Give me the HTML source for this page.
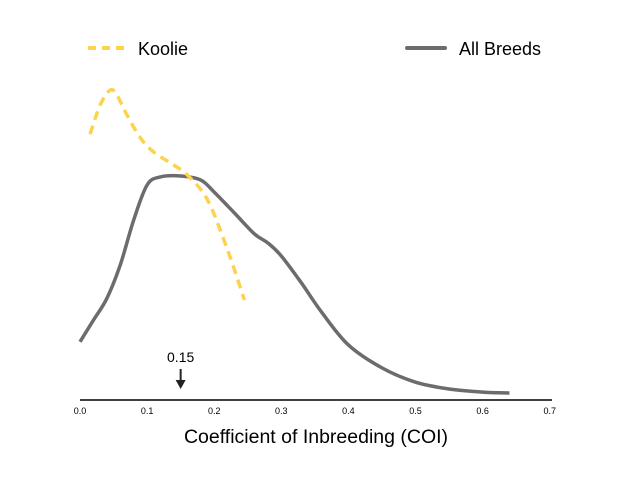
<!DOCTYPE html>
<html><head><meta charset="utf-8"><style>
html,body{margin:0;padding:0;background:#fff;}
svg{display:block;font-family:"Liberation Sans",sans-serif;}
</style></head><body>
<svg id="chart" width="640" height="480">
  <g>
    <line x1="88" y1="48" x2="125" y2="48" stroke="#fcd34d" stroke-width="4" stroke-dasharray="8,6"/>
    <text x="138" y="55" font-size="18" fill="#000">Koolie</text>
    <line x1="407" y1="48" x2="445" y2="48" stroke="#6b6b70" stroke-width="4" stroke-linecap="round"/>
    <text x="459" y="55" font-size="18" fill="#000">All Breeds</text>
  </g>
  <line x1="80" y1="400" x2="552" y2="400" stroke="#000" stroke-width="1.5"/>
  <g id="ticks"></g>
  <text x="316" y="443" font-size="19.5" text-anchor="middle">Coefficient of Inbreeding (COI)</text>
  <g id="series"></g>
  <g>
    <text id="mlabel" x="181" y="362" font-size="14" text-anchor="middle">0.15</text>
    <line id="mline" x1="181" y1="369" x2="181" y2="382" stroke="#222" stroke-width="2"/>
    <polygon id="mhead" points="176,380 186,380 181,389" fill="#222"/>
  </g>
</svg>
<script>
const tickValues = [0,0.1,0.2,0.3,0.4,0.5,0.6,0.7];
const tickLabels = ["0.0","0.1","0.2","0.3","0.4","0.5","0.6","0.7"];
const allX = [0,0.02,0.04,0.06,0.08,0.10,0.12,0.15,0.18,0.20,0.23,0.26,0.28,0.30,0.33,0.36,0.40,0.45,0.50,0.55,0.60,0.64];
const allY = [1.65,2.35,3.05,4.13,5.58,6.71,6.97,7.0,6.87,6.48,5.81,5.13,4.84,4.42,3.55,2.61,1.55,0.81,0.35,0.13,0.03,0.0];
const kooX = [0.015,0.03,0.045,0.055,0.07,0.09,0.11,0.14,0.16,0.19,0.22,0.245];
const kooY = [8.35,9.29,9.77,9.61,8.97,8.23,7.77,7.35,7.03,6.23,4.61,3.0];
const markerValue = 0.15;

const xs = v => 80 + v * 671;
const ys = d => 393 - d * 31;
const NS = "http://www.w3.org/2000/svg";

const tg = document.getElementById('ticks');
tickValues.forEach((v,i)=>{
  const t = document.createElementNS(NS,'text');
  t.setAttribute('x', xs(v)); t.setAttribute('y', 414);
  t.setAttribute('font-size','9'); t.setAttribute('text-anchor','middle');
  t.textContent = tickLabels[i];
  
  
  tg.appendChild(t);
});

function smooth(px, py){
  const p = px.map((x,i)=>[xs(x), ys(py[i])]);
  let d = `M${p[0][0]},${p[0][1]}`;
  for(let i=0;i<p.length-1;i++){
    const p0=p[Math.max(i-1,0)], p1=p[i], p2=p[i+1], p3=p[Math.min(i+2,p.length-1)];
    const c1=[p1[0]+(p2[0]-p0[0])/6, p1[1]+(p2[1]-p0[1])/6];
    const c2=[p2[0]-(p3[0]-p1[0])/6, p2[1]-(p3[1]-p1[1])/6];
    d += ` C${c1[0]},${c1[1]} ${c2[0]},${c2[1]} ${p2[0]},${p2[1]}`;
  }
  return d;
}
const sg = document.getElementById('series');
const a = document.createElementNS(NS,'path');
a.setAttribute('d', smooth(allX, allY));
a.setAttribute('fill','none'); a.setAttribute('stroke','#6b6b70'); a.setAttribute('stroke-width','3.5');


sg.appendChild(a);
const k = document.createElementNS(NS,'path');
k.setAttribute('d', smooth(kooX, kooY));
k.setAttribute('fill','none'); k.setAttribute('stroke','#fcd34d'); k.setAttribute('stroke-width','3.5');
k.setAttribute('stroke-dasharray','9,6');


sg.appendChild(k);

const mx = xs(markerValue);
document.getElementById('mlabel').setAttribute('x', mx);
document.getElementById('mline').setAttribute('x1', mx);
document.getElementById('mline').setAttribute('x2', mx);
document.getElementById('mhead').setAttribute('points', `${mx-5},380 ${mx+5},380 ${mx},389`);
</script>
</body></html>
